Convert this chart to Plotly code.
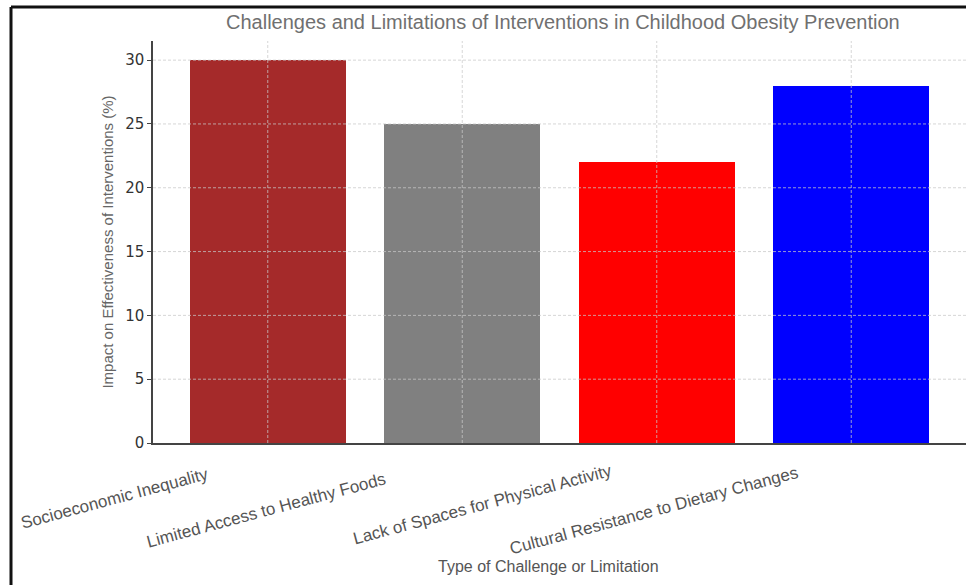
import plotly.graph_objects as go

# Chart data
categories = [
    "Socioeconomic Inequality",
    "Limited Access to Healthy Foods",
    "Lack of Spaces for Physical Activity",
    "Cultural Resistance to Dietary Changes",
]
impact_pct = [30, 25, 22, 28]
bar_colors = ["#A52A2A", "#808080", "#FF0000", "#0000FF"]
y_ticks = [0, 5, 10, 15, 20, 25, 30]

# Layout geometry (pixels)
W, H = 966, 585
M_L, M_R, M_T, M_B = 153, 0, 41, 142
plot_w = W - M_L - M_R
plot_h = H - M_T - M_B

# Category label placement tweaks (px, relative to bar centre / x-axis line)
label_dx = [-55, -72, -40, -48]
label_dy = [-19, -24, -15, -17]

x_idx = list(range(len(categories)))
y_max = max(impact_pct) * 1.05
x_pad = 0.19

fig = go.Figure(
    go.Bar(
        x=x_idx,
        y=impact_pct,
        width=0.8,
        marker=dict(color=bar_colors, line=dict(width=0)),
        hoverinfo="skip",
    )
)

# Dashed grid drawn on top of the bars
grid_style = dict(color="rgba(200,200,200,0.75)", width=1, dash="3px,2px")
shapes = []
for yv in y_ticks[1:]:
    shapes.append(dict(type="line", xref="paper", yref="y", x0=0, x1=1, y0=yv, y1=yv,
                       line=grid_style, layer="above"))
for xv in x_idx:
    shapes.append(dict(type="line", xref="x", yref="paper", x0=xv, x1=xv, y0=0, y1=1,
                       line=grid_style, layer="above"))

# Outer frame (top and left edges)
frame_x = (11 - M_L) / plot_w
frame_y = (H - M_B - 7) / plot_h
frame_bottom = -M_B / plot_h
frame_right = (W - M_L) / plot_w
frame_style = dict(color="#111111", width=3)
shapes.append(dict(type="line", xref="paper", yref="paper", x0=frame_x, x1=frame_right,
                   y0=frame_y, y1=frame_y, line=frame_style, layer="above"))
shapes.append(dict(type="line", xref="paper", yref="paper", x0=frame_x, x1=frame_x,
                   y0=frame_bottom, y1=frame_y, line=frame_style, layer="above"))

annotations = []
for i, name in enumerate(categories):
    annotations.append(dict(
        x=x_idx[i], y=0, xref="x", yref="paper",
        text=name, showarrow=False, textangle=-15,
        xanchor="right", yanchor="top",
        xshift=label_dx[i], yshift=label_dy[i],
        font=dict(family="Liberation Sans, Arial, sans-serif", size=17, color="#555555"),
    ))

annotations.append(dict(
    x=(548 - M_L) / plot_w, y=0, xref="paper", yref="paper",
    text="Type of Challenge or Limitation", showarrow=False,
    xanchor="center", yanchor="middle", yshift=-(566 - (H - M_B)),
    font=dict(family="Liberation Sans, Arial, sans-serif", size=16, color="#555555"),
))

annotations.append(dict(
    x=(563 - M_L) / plot_w, y=1, xref="paper", yref="paper",
    text="Challenges and Limitations of Interventions in Childhood Obesity Prevention",
    showarrow=False, xanchor="center", yanchor="middle", yshift=(M_T - 22),
    font=dict(family="Liberation Sans, Arial, sans-serif", size=20, color="#707070"),
))

fig.update_layout(
    width=W, height=H,
    margin=dict(l=M_L, r=M_R, t=M_T, b=M_B, pad=0),
    paper_bgcolor="white", plot_bgcolor="white",
    showlegend=False,
    bargap=0,
    shapes=shapes,
    annotations=annotations,
    xaxis=dict(
        range=[x_idx[0] - 0.4 - x_pad, x_idx[-1] + 0.4 + x_pad],
        showgrid=False, zeroline=False,
        showline=True, linecolor="#444444", linewidth=2,
        showticklabels=False, ticks="",
        fixedrange=True,
    ),
    yaxis=dict(
        range=[0, y_max],
        tickvals=y_ticks,
        showgrid=False, zeroline=False,
        showline=True, linecolor="#444444", linewidth=1.5,
        ticks="outside", ticklen=4, tickcolor="#444444",
        tickfont=dict(family="DejaVu Sans, sans-serif", size=15, color="#333333"),
        title=dict(
            text="Impact on Effectiveness of Interventions (%)",
            font=dict(family="Liberation Sans, Arial, sans-serif", size=15, color="#666666"),
            standoff=8,
        ),
        fixedrange=True,
    ),
)

fig.write_html("out.html")
